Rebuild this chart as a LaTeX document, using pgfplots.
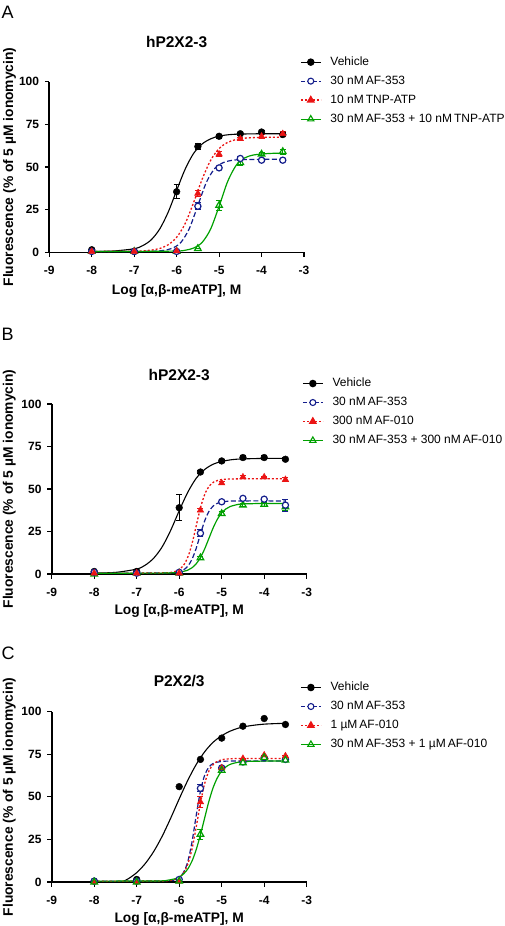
\documentclass[border=0pt]{standalone}
\usepackage{fontspec}
\setmainfont{Liberation Sans}
\usepackage{pgfplots}
\pgfplotsset{compat=1.18}
\definecolor{cblue}{RGB}{20,30,140}
\definecolor{cred}{RGB}{235,20,20}
\definecolor{cgreen}{RGB}{0,160,0}
\pgfplotsset{
  panel/.style={
    scale only axis,
    xmin=-9, xmax=-3, ymin=0, ymax=100,
    axis lines=left,
    axis line style={-, line width=1.6pt},
    every outer x axis line/.append style={-},
    every outer y axis line/.append style={-},
    xtick={-9,-8,-7,-6,-5,-4,-3},
    xticklabels={-9,-8,-7,-6,-5,-4,-3},
    ytick={0,25,50,75,100},
    tick align=outside,
    major tick length=4.5pt,
    tick style={line width=1.2pt, black},
    /pgf/number format/assume math mode=true,
    ticklabel style={font=\bfseries\fontsize{12}{14}\selectfont},
    xticklabel style={anchor=base, yshift=-18pt},
    yticklabel style={anchor=east, inner xsep=0pt, xshift=-5.5pt},
    xlabel={Log [α,β-meATP], M},
    ylabel={Fluorescence (\% of 5 µM ionomycin)},
    label style={font=\bfseries\fontsize{13.8}{16}\selectfont},
    title style={font=\bfseries\fontsize{15.5}{18}\selectfont, at={(0.5,1)}, anchor=base},
    legend image code/.code={\draw[mark repeat=2,mark phase=2,##1] plot coordinates {(0pt,0pt) (10pt,0pt) (20pt,0pt)};},
    legend cell align=left,
    legend style={draw=none, fill=none, anchor=north west, inner sep=0pt,
      font=\fontsize{12}{14}\selectfont, row sep=7pt, column sep=9pt,
      nodes={inner sep=0pt, text height=9pt, text depth=3pt}},
    error bars/error bar style={line width=1pt},
    error bars/error mark options={rotate=90, mark size=3pt, line width=1pt},
  },
  vehline/.style={black, line width=1.1pt, smooth, no marks, forget plot},
  vehmark/.style={black, only marks, mark=*, mark size=3.4pt, forget plot,
    error bars/.cd, y dir=both, y explicit},
  blueline/.style={cblue, line width=1.2pt, dash pattern=on 5pt off 2.5pt, smooth, no marks, forget plot},
  bluemark/.style={cblue, only marks, mark=*, mark size=3.1pt, mark options={solid, fill=white, line width=1.2pt}, forget plot,
    error bars/.cd, y dir=both, y explicit},
  redline/.style={cred, line width=1.3pt, dash pattern=on 2pt off 2pt, smooth, no marks, forget plot},
  redmark/.style={cred, only marks, mark=triangle*, mark size=3.8pt, mark options={solid}, forget plot,
    error bars/.cd, y dir=both, y explicit},
  greenline/.style={cgreen, line width=1.2pt, smooth, no marks, forget plot},
  greenmark/.style={cgreen, only marks, mark=triangle, mark size=3.8pt, mark options={solid, fill=white, line width=1.2pt}, forget plot,
    error bars/.cd, y dir=both, y explicit},
}
\newcommand{\legimgs}{%
  \addlegendimage{black, line width=1.1pt, mark=*, mark size=3.2pt}
  \addlegendimage{cblue, line width=1.2pt, dash pattern=on 4pt off 2pt, mark=*, mark size=3pt, mark options={solid, fill=white, line width=1.1pt}}
  \addlegendimage{cred, line width=1.3pt, dash pattern=on 2pt off 2pt, mark=triangle*, mark size=3.6pt, mark options={solid}}
  \addlegendimage{cgreen, line width=1.2pt, mark=triangle, mark size=3.6pt, mark options={solid, fill=white, line width=1.1pt}}
}
\begin{document}
\begin{tikzpicture}
\useasboundingbox (0,0) rectangle (505pt,-926pt);
\node[anchor=base west, inner sep=0pt, font=\fontsize{18}{20}\selectfont] at (1.5pt,-18.3pt) {A};
\node[anchor=base west, inner sep=0pt, font=\fontsize{18}{20}\selectfont] at (1.5pt,-340pt) {B};
\node[anchor=base west, inner sep=0pt, font=\fontsize{18}{20}\selectfont] at (1.5pt,-659pt) {C};

% ---------------- Panel A ----------------
\begin{axis}[panel, at={(49.3pt,-252.3pt)}, anchor=south west,
  width=254.7pt, height=170.6pt,
  title={hP2X2-3}, title style={yshift=28.4pt},
  xlabel style={at={(axis description cs:0.5,-0.250)}, anchor=base},
  ylabel style={at={(axis description cs:-0.1425,0.5)}, anchor=base, rotate=0},
  legend style={at={(0.984,1.151)}}]
\legimgs
\addlegendentry{Vehicle}
\addlegendentry{30 nM\,AF-353}
\addlegendentry{10 nM\,TNP-ATP}
\addlegendentry{30 nM\,AF-353 + 10 nM\,TNP-ATP}
\addplot[vehline] coordinates {(-8,0.53) (-7.5,0.75) (-7,2.1) (-6.8,3.9) (-6.6,7.3) (-6.4,13.6) (-6.2,23.5) (-6,36.3) (-5.8,48.7) (-5.6,58.0) (-5.4,63.5) (-5.2,66.5) (-5,68.1) (-4.75,69.0) (-4.5,69.3) (-4,69.5) (-3.5,69.5)};
\addplot[blueline] coordinates {(-8,0.5) (-7,0.5) (-6.5,0.7) (-6.3,1.15) (-6.1,2.4) (-5.9,5.8) (-5.7,14.0) (-5.5,27.5) (-5.3,41.0) (-5.1,49.2) (-4.9,52.6) (-4.7,53.9) (-4.5,54.3) (-4,54.5) (-3.5,54.5)};
\addplot[redline] coordinates {(-8,0.5) (-7,0.65) (-6.8,0.84) (-6.6,1.28) (-6.4,2.25) (-6.2,4.4) (-6,8.8) (-5.8,16.8) (-5.6,29.2) (-5.4,42.8) (-5.2,53.9) (-5,60.8) (-4.8,64.4) (-4.6,66.1) (-4.4,66.9) (-4,67.4) (-3.5,67.5)};
\addplot[greenline] coordinates {(-8,0.5) (-7,0.5) (-6,0.75) (-5.8,1.2) (-5.6,2.5) (-5.4,5.8) (-5.2,13.6) (-5,27.0) (-4.8,41.4) (-4.6,50.9) (-4.4,55.3) (-4.2,57.0) (-4,57.6) (-3.75,58) (-3.5,58)};
\addplot[greenmark] coordinates {(-8,0.5) +- (0,0) (-7,0.5) +- (0,0) (-6,0.5) +- (0,0) (-5.5,2.2) +- (0,0) (-5,27.5) +- (0,3) (-4.5,52.5) +- (0,1.5) (-4,57.5) +- (0,1) (-3.5,59) +- (0,1.5)};
\addplot[vehmark] coordinates {(-8,1.5) +- (0,0.5) (-7,0.5) +- (0,0) (-6,35.5) +- (0,4) (-5.5,62) +- (0,1.5) (-5,68) +- (0,1) (-4.5,69.5) +- (0,1) (-4,70.5) +- (0,1) (-3.5,69) +- (0,1)};
\addplot[bluemark] coordinates {(-8,0.5) +- (0,0) (-7,0.5) +- (0,0) (-6,0.5) +- (0,0) (-5.5,27) +- (0,2) (-5,49.5) +- (0,1) (-4.5,55) +- (0,1) (-4,54) +- (0,1) (-3.5,54) +- (0,1)};
\addplot[redmark] coordinates {(-8,0.5) +- (0,0) (-7,0.5) +- (0,0) (-6,0.8) +- (0,0) (-5.5,34.5) +- (0,1.5) (-5,57.5) +- (0,1.5) (-4.5,66.5) +- (0,1) (-4,68) +- (0,1) (-3.5,69.5) +- (0,1.5)};
\end{axis}

% ---------------- Panel B ----------------
\begin{axis}[panel, at={(51.7pt,-574pt)}, anchor=south west,
  width=255pt, height=170pt,
  title={hP2X2-3}, title style={yshift=18pt},
  xlabel style={at={(axis description cs:0.5,-0.241)}, anchor=base},
  ylabel style={at={(axis description cs:-0.1518,0.5)}, anchor=base, rotate=0},
  legend style={at={(0.9816,1.157)}}]
\legimgs
\addlegendentry{Vehicle}
\addlegendentry{30 nM\,AF-353}
\addlegendentry{300 nM\,AF-010}
\addlegendentry{30 nM\,AF-353 + 300 nM\,AF-010}
\addplot[vehline] coordinates {(-8,0.58) (-7.5,0.95) (-7,2.9) (-6.8,5.2) (-6.6,9.3) (-6.4,16.0) (-6.2,25.7) (-6,37.2) (-5.8,48.0) (-5.6,56.3) (-5.4,61.5) (-5.2,64.6) (-5,66.2) (-4.75,67.3) (-4.5,67.7) (-4,68) (-3.5,68)};
\addplot[blueline] coordinates {(-8,0.5) (-7,0.5) (-6.2,0.67) (-6.1,0.9) (-6,1.37) (-5.9,2.4) (-5.8,4.5) (-5.7,8.6) (-5.6,15.1) (-5.5,23.45) (-5.4,31.3) (-5.3,36.8) (-5.2,40.0) (-5.1,41.6) (-5,42.4) (-4.8,42.9) (-4.5,43) (-3.5,43)};
\addplot[redline] coordinates {(-8,0.5) (-7,0.5) (-6.28,0.73) (-6.18,1.0) (-6.08,1.64) (-5.98,3.0) (-5.88,5.8) (-5.78,11.0) (-5.68,19.6) (-5.58,30.5) (-5.48,40.7) (-5.38,48.0) (-5.28,52.1) (-5.18,54.2) (-5.08,55.2) (-4.88,55.8) (-4.5,56) (-3.5,56)};
\addplot[greenline] coordinates {(-8,0.5) (-6.5,0.52) (-6.2,0.65) (-6,1.0) (-5.8,2.25) (-5.7,3.65) (-5.6,6.0) (-5.5,9.7) (-5.4,14.8) (-5.3,21.0) (-5.2,27.2) (-5.1,32.3) (-5,36.0) (-4.9,38.3) (-4.8,39.7) (-4.6,41.0) (-4.4,41.3) (-4,41.5) (-3.5,41.5)};
\addplot[greenmark] coordinates {(-8,0) +- (0,0) (-7,0.5) +- (0,0) (-6,0.5) +- (0,0) (-5.5,9.5) +- (0,1) (-5,35.5) +- (0,1) (-4.5,40.5) +- (0,1) (-4,41) +- (0,1) (-3.5,39.5) +- (0,2)};
\addplot[vehmark] coordinates {(-8,1.5) +- (0,0) (-7,1.5) +- (0,0) (-6,39) +- (0,7.5) (-5.5,60) +- (0,1) (-5,66.5) +- (0,1) (-4.5,68.5) +- (0,1) (-4,68.5) +- (0,1) (-3.5,67.5) +- (0,1)};
\addplot[bluemark] coordinates {(-8,1) +- (0,0) (-7,0.5) +- (0,0) (-6,1) +- (0,0) (-5.5,24) +- (0,2) (-5,42.5) +- (0,1) (-4.5,44.5) +- (0,1) (-4,44) +- (0,1) (-3.5,40.5) +- (0,3.5)};
\addplot[redmark] coordinates {(-8,0.5) +- (0,0) (-7,0.5) +- (0,0) (-6,0.5) +- (0,0) (-5.5,37.5) +- (0,1) (-5,53.5) +- (0,1) (-4.5,57) +- (0,1) (-4,57) +- (0,0.5) (-3.5,55.5) +- (0,1)};
\end{axis}

% ---------------- Panel C ----------------
\begin{axis}[panel, at={(51.7pt,-882pt)}, anchor=south west,
  width=255pt, height=170.3pt,
  title={P2X2/3}, title style={yshift=19.7pt},
  xlabel style={at={(axis description cs:0.5,-0.237)}, anchor=base},
  ylabel style={at={(axis description cs:-0.1518,0.5)}, anchor=base, rotate=0},
  legend style={at={(0.974,1.1785)}}]
\legimgs
\addlegendentry{Vehicle}
\addlegendentry{30 nM\,AF-353}
\addlegendentry{1 µM\,AF-010}
\addlegendentry{30 nM\,AF-353 + 1 µM\,AF-010}
\addplot[vehline] coordinates {(-7.35,0) (-7.2,1.9) (-7,5.5) (-6.8,10.8) (-6.6,17.9) (-6.4,26.9) (-6.2,37.5) (-6,48.8) (-5.8,59.6) (-5.6,69.0) (-5.4,76.5) (-5.2,82.1) (-5,85.9) (-4.8,88.6) (-4.6,90.4) (-4.4,91.5) (-4.2,92.2) (-4,92.7) (-3.75,93.0) (-3.5,93.2)};
\addplot[blueline] coordinates {(-8,0.5) (-7,0.5) (-6.2,0.84) (-6.1,1.34) (-6,2.6) (-5.9,5.5) (-5.8,11.8) (-5.7,23.3) (-5.6,39.0) (-5.5,53.4) (-5.4,62.8) (-5.3,67.5) (-5.2,69.6) (-5.1,70.4) (-5,70.8) (-4.8,71) (-3.5,71)};
\addplot[redline] coordinates {(-8,0.5) (-7,0.5) (-6.3,0.7) (-6.2,0.95) (-6.1,1.5) (-6,2.7) (-5.9,5.2) (-5.8,10.3) (-5.7,19.2) (-5.6,32.2) (-5.5,46.4) (-5.4,57.9) (-5.3,65.2) (-5.2,69.0) (-5.1,70.9) (-5,71.8) (-4.8,72.4) (-4.5,72.5) (-3.5,72.5)};
\addplot[greenline] coordinates {(-8,0.5) (-6.5,0.64) (-6.3,0.94) (-6.1,1.9) (-6,2.9) (-5.9,4.7) (-5.8,7.6) (-5.7,12.2) (-5.6,19.0) (-5.5,27.8) (-5.4,37.7) (-5.3,47.5) (-5.2,55.5) (-5.1,61.3) (-5,65.2) (-4.9,67.6) (-4.8,69.1) (-4.6,70.4) (-4.4,70.8) (-4,71) (-3.5,71)};
\addplot[vehmark] coordinates {(-8,0.5) +- (0,0) (-7,1.5) +- (0,0) (-6,56) +- (0,0) (-5.5,72) +- (0,0) (-5,84.5) +- (0,0) (-4.5,91.5) +- (0,0) (-4,96) +- (0,0) (-3.5,92.5) +- (0,0)};
\addplot[bluemark] coordinates {(-8,0.5) +- (0,0) (-7,0.5) +- (0,0) (-6,1.5) +- (0,0) (-5.5,55) +- (0,2) (-5,67) +- (0,0) (-4.5,70.5) +- (0,0) (-4,73) +- (0,0) (-3.5,72) +- (0,0)};
\addplot[redmark] coordinates {(-8,0) +- (0,0) (-7,0) +- (0,0) (-6,0.5) +- (0,0) (-5.5,47) +- (0,3) (-5,67) +- (0,0) (-4.5,72.5) +- (0,0) (-4,74.5) +- (0,0) (-3.5,74) +- (0,0)};
\addplot[greenmark] coordinates {(-8,0) +- (0,0) (-7,0) +- (0,0) (-6,0.5) +- (0,0) (-5.5,28) +- (0,3) (-5,65.5) +- (0,1) (-4.5,70) +- (0,1) (-4,73) +- (0,1) (-3.5,71.5) +- (0,1)};
\end{axis}
\end{tikzpicture}
\end{document}
